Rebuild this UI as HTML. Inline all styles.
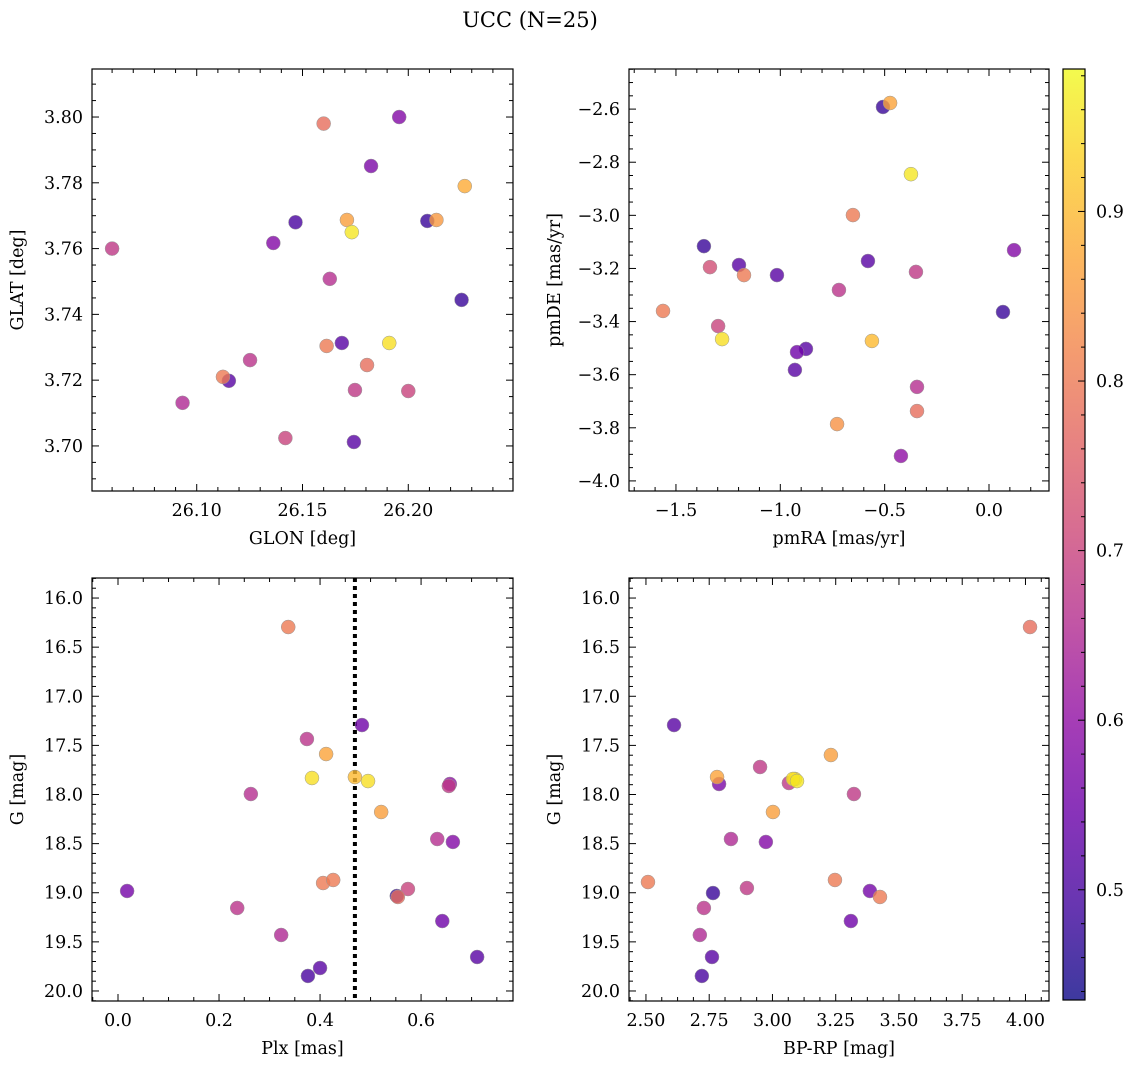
<!DOCTYPE html>
<html><head><meta charset="utf-8"><style>
body{margin:0;background:#fff}
svg text{font-family:"DejaVu Serif","Liberation Serif",serif;fill:#000}
</style></head><body>
<svg id="fig" width="1136" height="1068" viewBox="0 0 1136 1068" xmlns="http://www.w3.org/2000/svg">
<defs><linearGradient id="plasma" x1="0" y1="1" x2="0" y2="0">
<stop offset="0" stop-color="#0d0887"/><stop offset="0.1" stop-color="#41049d"/><stop offset="0.2" stop-color="#6a00a8"/><stop offset="0.3" stop-color="#8f0da4"/><stop offset="0.4" stop-color="#b12a90"/><stop offset="0.5" stop-color="#cc4778"/><stop offset="0.6" stop-color="#e16462"/><stop offset="0.7" stop-color="#f2844b"/><stop offset="0.8" stop-color="#fca636"/><stop offset="0.9" stop-color="#fcce25"/><stop offset="1" stop-color="#f0f921"/></linearGradient></defs>
<text x="530" y="27" font-size="21" text-anchor="middle">UCC (N=25)</text>
</svg>
<script>
// ---- data ----
const prob1 = [0.78,0.58,0.57,0.88,0.68,0.5,0.58,0.86,0.96,0.48,0.85,0.66,0.48,0.52,0.8,0.95,0.67,0.78,0.8,0.52,0.65,0.68,0.7,0.7,0.52];
const glon = [26.160,26.1957,26.1824,26.2267,26.060,26.1467,26.1362,26.171,26.1733,26.209,26.2133,26.1629,26.2252,26.1686,26.1614,26.191,26.1252,26.1805,26.1124,26.1152,26.0933,26.1748,26.200,26.1419,26.1743];
const glat = [3.798,3.800,3.7851,3.779,3.760,3.768,3.7617,3.7687,3.765,3.7684,3.7687,3.7508,3.7444,3.7313,3.7304,3.7313,3.7261,3.7246,3.721,3.7198,3.7131,3.717,3.7167,3.7024,3.7012];
const pmra = [-0.474,-0.508,-0.374,-0.652,-1.366,-0.350,-1.198,-1.337,-1.174,-1.016,-0.580,0.120,-0.719,-1.562,0.067,-1.298,-1.279,-0.561,-0.877,-0.920,-0.930,-0.345,-0.345,-0.728,-0.422];
const pmde = [-2.577,-2.592,-2.845,-2.999,-3.116,-3.213,-3.187,-3.195,-3.225,-3.225,-3.172,-3.131,-3.281,-3.360,-3.364,-3.417,-3.466,-3.473,-3.503,-3.515,-3.582,-3.646,-3.737,-3.786,-3.906];
const prob2 = [0.87,0.48,0.96,0.8,0.48,0.68,0.52,0.72,0.8,0.52,0.52,0.58,0.67,0.8,0.48,0.7,0.95,0.9,0.52,0.55,0.52,0.66,0.78,0.84,0.6];
const plx = [0.337,0.483,0.374,0.412,0.384,0.469,0.495,0.263,0.657,0.655,0.521,0.632,0.663,0.018,0.406,0.426,0.552,0.554,0.574,0.236,0.642,0.323,0.400,0.376,0.711];
const gmag3 = [16.295,17.293,17.435,17.588,17.832,17.822,17.863,17.995,17.893,17.913,18.178,18.453,18.483,18.982,18.901,18.870,19.033,19.043,18.962,19.155,19.288,19.430,19.766,19.847,19.654];
const prob3 = [0.8,0.55,0.67,0.87,0.95,0.9,0.95,0.66,0.6,0.68,0.86,0.66,0.58,0.56,0.8,0.8,0.48,0.78,0.7,0.67,0.55,0.65,0.52,0.5,0.52];
const bprp = [4.018,2.611,2.781,2.789,2.951,3.231,3.089,3.097,3.065,3.322,3.002,2.836,2.974,2.508,3.247,2.899,3.385,3.425,2.765,2.729,3.310,2.713,2.761,2.721,3.081];
const gmag4 = [16.295,17.293,17.822,17.893,17.720,17.598,17.842,17.863,17.883,17.995,18.178,18.453,18.483,18.891,18.870,18.952,18.982,19.043,19.003,19.155,19.288,19.430,19.654,19.847,17.842];
const prob4 = [0.78,0.52,0.87,0.57,0.68,0.86,0.95,0.96,0.68,0.68,0.86,0.65,0.58,0.8,0.8,0.68,0.56,0.8,0.48,0.67,0.55,0.65,0.52,0.5,0.95];
const plxLine = [0.469];
const cbTicks = [0.5,0.6,0.7,0.8,0.9];

const NS='http://www.w3.org/2000/svg';
const fig=document.getElementById('fig');
function mk(tag,attrs,parent){const e=document.createElementNS(NS,tag);for(const k in attrs)e.setAttribute(k,attrs[k]);(parent||fig).appendChild(e);return e;}
const stops=[[13,8,135],[65,4,157],[106,0,168],[143,13,164],[177,42,144],[204,71,120],[225,100,98],[242,132,75],[252,166,54],[252,206,37],[240,249,33]];
const VMIN=0.435,VMAX=0.984;
function cmap(v){let t=(v-VMIN)/(VMAX-VMIN);t=Math.max(0,Math.min(1,t))*10;const i=Math.min(9,Math.floor(t)),f=t-i;const a=stops[i],b=stops[i+1];return 'rgb('+a.map((c,j)=>Math.round(c+(b[j]-c)*f)).join(',')+')';}

function panel(o){
  const g=mk('g',{});
  
  
  const X=v=>o.L+(v-o.x0)/(o.x1-o.x0)*(o.R-o.L);
  const Y=v=>o.B-(v-o.y0)/(o.y1-o.y0)*(o.B-o.T);
  function ticks(lo,hi,step,div,cb){const ms=step/div;const s=Math.ceil(lo/ms-1e-6);for(let k=s;k*ms<=hi+1e-9;k++){const v=k*ms;const major=Math.abs(Math.round(v/step)*step-v)<ms*0.01;cb(v,major);}}
  ticks(o.x0,o.x1,o.xs,o.xd,(v,maj)=>{const x=X(v),l=maj?7:4;
    mk('line',{x1:x,x2:x,y1:o.B,y2:o.B-l,stroke:'#000','stroke-width':1},g);
    mk('line',{x1:x,x2:x,y1:o.T,y2:o.T+l,stroke:'#000','stroke-width':1},g);
    if(maj){const t=mk('text',{x:x,y:o.B+25,'font-size':17.5,'text-anchor':'middle'},g);t.textContent=(Math.abs(v)<1e-9?0:v).toFixed(o.xf).replace('-','\u2212');}});
  ticks(o.y0,o.y1,o.ys,o.yd,(v,maj)=>{const y=Y(v),l=maj?7:4;
    mk('line',{x1:o.L,x2:o.L+l,y1:y,y2:y,stroke:'#000','stroke-width':1},g);
    mk('line',{x1:o.R,x2:o.R-l,y1:y,y2:y,stroke:'#000','stroke-width':1},g);
    if(maj){const t=mk('text',{x:o.L-9,y:y+6,'font-size':17.5,'text-anchor':'end'},g);let s=(Math.abs(v)<1e-9?0:v).toFixed(o.yf);if(o.neg)s=s.replace('-','');t.textContent=s.replace('-','\u2212');}});
  const xl=mk('text',{x:(o.L+o.R)/2,y:o.B+53,'font-size':17.5,'text-anchor':'middle'},g);
  xl.textContent=o.xlab;
  const yl=mk('text',{x:0,y:0,'font-size':17.5,'text-anchor':'middle',transform:`translate(${o.L-69},${(o.T+o.B)/2}) rotate(-90)`},g);
  yl.textContent=o.ylab;
  if(o.vline){o.vline.forEach(v=>{const l=mk('line',{x1:X(v),x2:X(v),y1:o.T,y2:o.B,stroke:'#000','stroke-width':4,'stroke-dasharray':'4,4'},g);});}
  const idx=o.xs_.map((_,i)=>i).sort((a,b)=>o.c[a]-o.c[b]);
  idx.forEach(i=>{const c=mk('circle',{cx:X(o.xs_[i]),cy:Y(o.ys_[i]),r:7,fill:cmap(o.c[i]),'fill-opacity':0.8,stroke:'#999','stroke-width':0.5},g);
    });
  const f=mk('rect',{x:o.L,y:o.T,width:o.R-o.L,height:o.B-o.T,fill:'none',stroke:'#000','stroke-width':1.2},g);
  
}
panel({name:'panel-glon-glat',L:92,R:513,T:69,B:491,x0:26.0505,x1:26.2495,y0:3.6863,y1:3.8146,xs:0.05,xd:5,ys:0.02,yd:4,xf:2,yf:2,xlab:'GLON [deg]',ylab:'GLAT [deg]',xs_:glon,ys_:glat,c:prob1});
panel({name:'panel-pm',L:629,R:1049,T:69,B:491,x0:-1.725,x1:0.2875,y0:-4.038,y1:-2.449,xs:0.5,xd:5,ys:0.2,yd:4,xf:1,yf:1,xlab:'pmRA [mas/yr]',ylab:'pmDE [mas/yr]',xs_:pmra,ys_:pmde,c:prob2});
panel({name:'panel-plx-g',L:92,R:513,T:578,B:1001,x0:-0.0515,x1:0.782,y0:-20.102,y1:-15.796,xs:0.2,xd:4,ys:0.5,yd:5,xf:1,yf:1,neg:true,xlab:'Plx [mas]',ylab:'G [mag]',xs_:plx,ys_:gmag3.map(v=>-v),c:prob3,vline:plxLine});
panel({name:'panel-cmd',L:629,R:1049,T:578,B:1001,x0:2.433,x1:4.093,y0:-20.102,y1:-15.796,xs:0.25,xd:4,ys:0.5,yd:5,xf:2,yf:1,neg:true,xlab:'BP-RP [mag]',ylab:'G [mag]',xs_:bprp,ys_:gmag4.map(v=>-v),c:prob4});
// colorbar
const cb=mk('g',{});


const CT=69,CB=1000,CL=1063,CR=1085;
const CY=v=>CB-(v-VMIN)/(VMAX-VMIN)*(CB-CT);
mk('rect',{x:CL,y:CT,width:CR-CL,height:CB-CT,fill:'url(#plasma)','fill-opacity':0.8},cb);
mk('rect',{x:CL,y:CT,width:CR-CL,height:CB-CT,fill:'none',stroke:'#000','stroke-width':1.2},cb);
for(let k=22;k<=49;k++){const v=k*0.02;const y=CY(v);if(y<CT||y>CB)continue;const maj=k%5===0;
  mk('line',{x1:CR,x2:CR-(maj?7:4),y1:y,y2:y,stroke:'#000','stroke-width':1},cb);}
cbTicks.forEach(v=>{const t=mk('text',{x:CR+11,y:CY(v)+6,'font-size':17.5},cb);t.textContent=v.toFixed(1);});
</script>
</body></html>
